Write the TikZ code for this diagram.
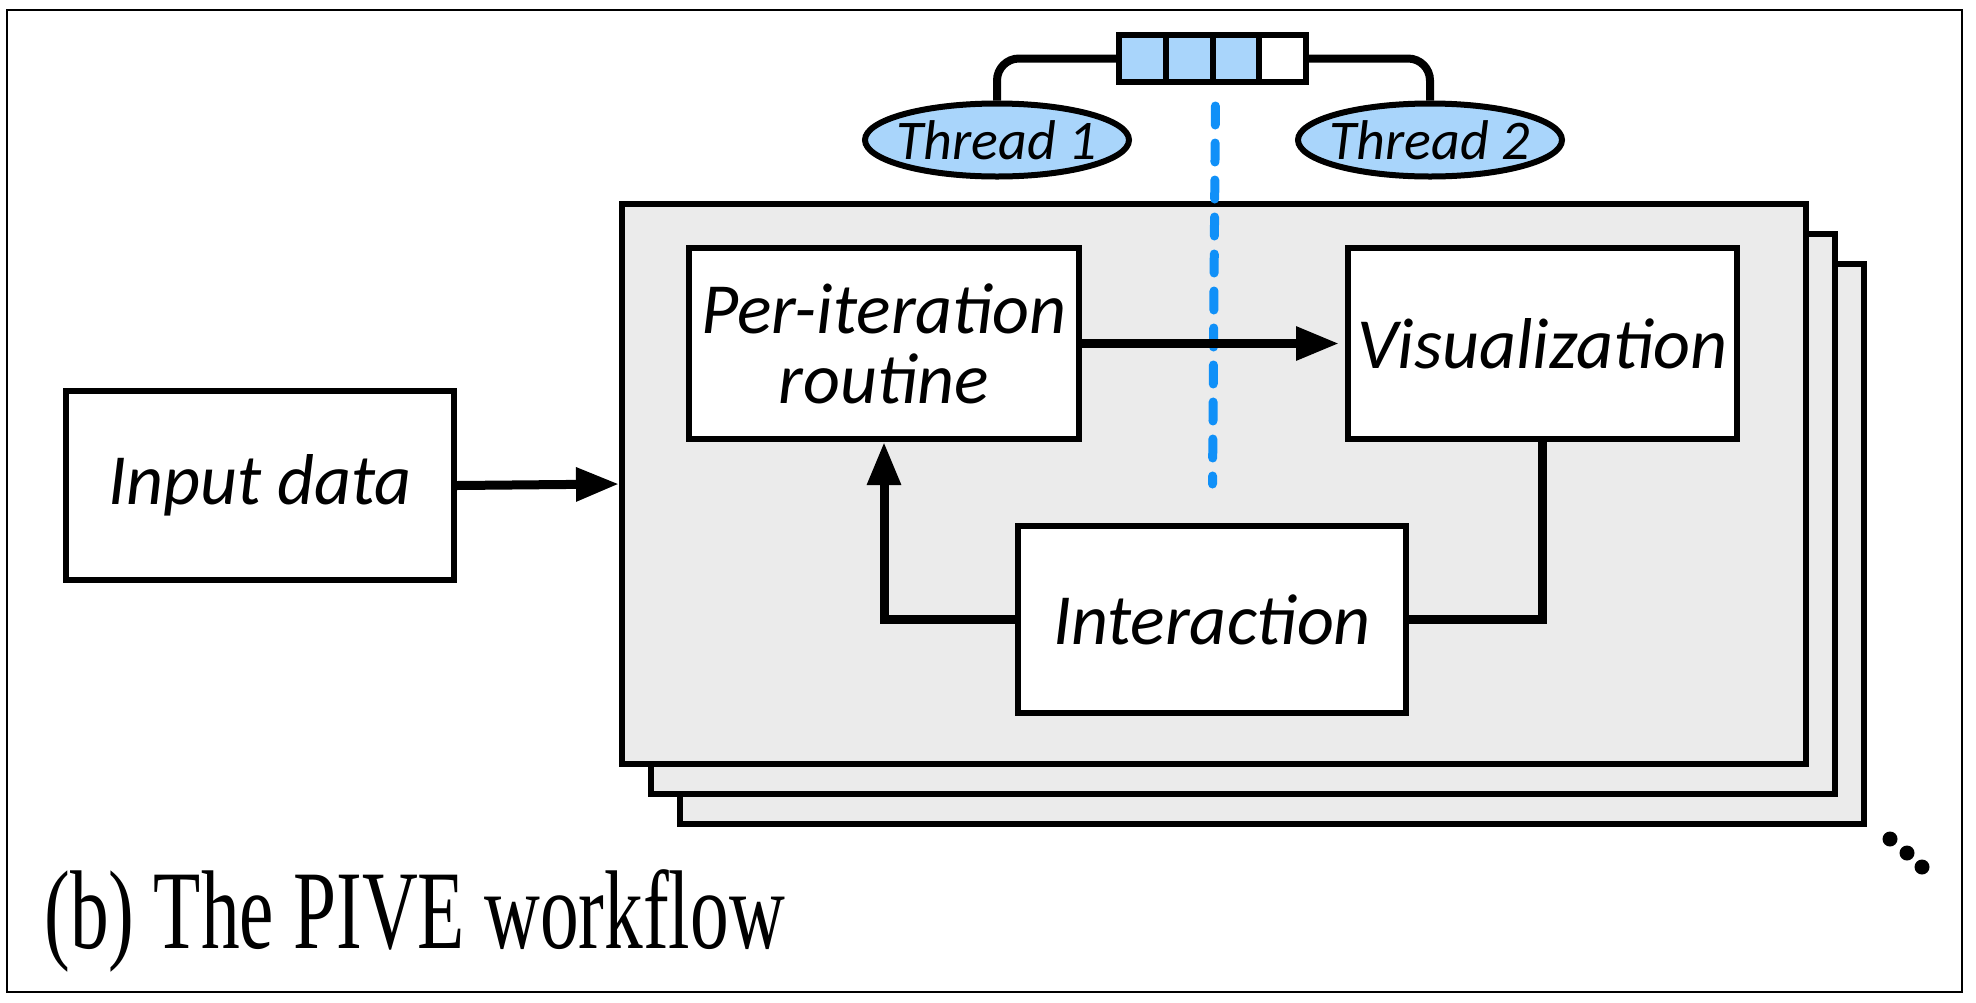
\documentclass[tikz,border=0pt]{standalone}
\usepackage{fontspec}
\setmainfont{Liberation Serif}
\newfontfamily\labfont{Carlito}
\usetikzlibrary{arrows.meta,shapes.geometric}
\definecolor{qblue}{HTML}{A9D5FB}
\definecolor{dblue}{HTML}{1090F8}
\definecolor{pgray}{HTML}{EBEBEB}
\begin{document}
\begin{tikzpicture}[x=0.5pt,y=-0.5pt,
  box/.style={draw=black,line width=3pt,fill=white,inner sep=0pt,align=center,
    font=\labfont\itshape\fontsize{36}{35}\selectfont},
  panelbox/.style={draw=black,line width=3pt,fill=pgray,inner sep=0pt,minimum width=592pt,minimum height=280pt},
  cell/.style={draw=black,line width=3pt,inner sep=0pt,minimum width=23.4pt,minimum height=23.5pt},
  thread/.style={ellipse,draw=black,line width=3pt,fill=qblue,inner xsep=-8pt,inner ysep=0pt,minimum width=132pt,minimum height=36.5pt,
    font=\labfont\itshape\fontsize{28}{28}\selectfont},
  conn/.style={line width=4pt},
  arr/.style={line width=4.5pt,-{Triangle[length=21.5pt,width=16pt]}}
]
\useasboundingbox (0,0) rectangle (1976,1002);
\draw[line width=1pt] (7,10) rectangle (1962,992);
% stacked panels
\node[panelbox] (panelC) at (1272,543.5) {};
\node[panelbox] (panelB) at (1243,514) {};
\node[panelbox] (panel) at (1214,484) {};
% boxes
\node[box,minimum width=194pt,minimum height=94.5pt] (input) at (260,485.5) {Input data};
\node[box,minimum width=195pt,minimum height=95.5pt] (per) at (884,343.5) {Per-iteration\\routine};
\node[box,minimum width=194.5pt,minimum height=95.5pt] (vis) at (1542.5,343.5) {Visualization};
\node[box,minimum width=194pt,minimum height=93.5pt] (inter) at (1212,619.5) {Interaction};
% queue
\node[cell,fill=qblue] (q1) at (1142.4,58.5) {};
\node[cell,fill=qblue] (q2) at (1189.1,58.5) {};
\node[cell,fill=qblue] (q3) at (1235.9,58.5) {};
\node[cell,fill=white] (q4) at (1282.6,58.5) {};
% threads
\node[thread] (t1) at (997,140) {Thread 1};
\node[thread] (t2) at (1430,140) {Thread 2};
\draw[conn,rounded corners=11pt] (t1.north) |- (q1.west);
\draw[conn,rounded corners=11pt] (q4.east) -| (t2.north);
% dashed line
\coordinate (dend) at (1212.5,484);
\draw[dblue,line width=4.5pt,dash pattern=on 9.5pt off 9pt,dash phase=12pt,line cap=round] ([yshift=-4pt]q2.south east) -- (dend);
% arrows
\draw[arr] (input.east) -- (panel.west);
\draw[arr,shorten >=3pt] (per.east) -- (vis.west);
\draw[arr] (inter.west) -| (per.south);
\draw[conn,line width=4.5pt] (vis.south) |- (inter.east);
% dots
\fill (1890,839) circle (7.5);
\fill (1907,853) circle (7.5);
\fill (1922,867) circle (7.5);
% caption
\node[anchor=base west,inner sep=0pt,font=\fontsize{56}{56}\selectfont] (cap) at (44,948) {\scalebox{0.69}[1]{(b) The PIVE workflow}};
\end{tikzpicture}
\end{document}
